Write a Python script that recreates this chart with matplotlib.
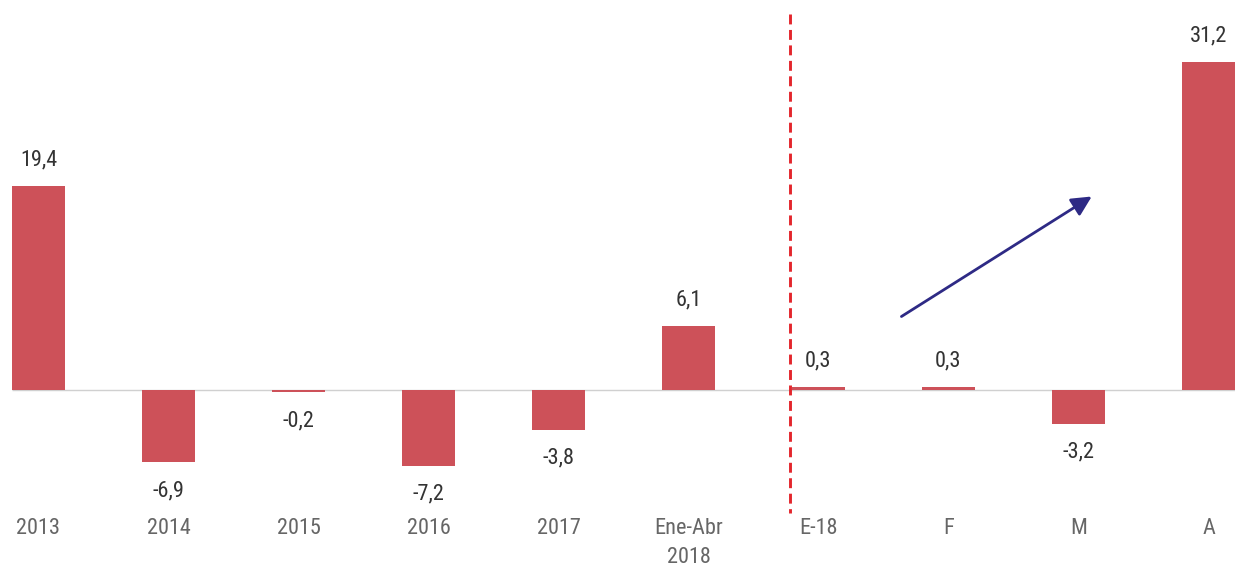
import matplotlib
matplotlib.use('Agg')
import matplotlib.pyplot as plt
from matplotlib import font_manager as fm
import numpy as np

categories = ['2013', '2014', '2015', '2016', '2017', 'Ene-Abr\n2018', 'E-18', 'F', 'M', 'A']
values = [19.4, -6.9, -0.2, -7.2, -3.8, 6.1, 0.3, 0.3, -3.2, 31.2]
value_labels = ['19,4', '-6,9', '-0,2', '-7,2', '-3,8', '6,1', '0,3', '0,3', '-3,2', '31,2']

# look for a narrow / condensed sans regular face (the original uses a condensed font)
cond = None
for f in fm.fontManager.ttflist:
    nm = (f.name + ' ' + f.fname).lower()
    if any(b in nm for b in ('mono', 'cjk', 'serif', 'bold', 'italic', 'light', 'thin',
                             'black', 'medium', 'semi', 'demi', 'extra', 'heavy')):
        continue
    if f.weight not in (400, 'normal', 'regular', 'book'):
        continue
    if 'sans' not in nm and 'roboto' not in nm and 'lato' not in nm and 'inter' not in nm:
        continue
    if 'narrow' in nm or 'condensed' in nm or f.stretch in ('condensed', 'semi-condensed'):
        cond = f.fname
        if 'liberation' in nm:
            break
if cond:
    fp = fm.FontProperties(fname=cond, size=16)
else:
    fp = fm.FontProperties(family='Liberation Sans', size=14)

bar_color = '#cd5159'
x = np.arange(len(categories))
width = 0.41

fig = plt.figure(figsize=(12.35, 5.67), dpi=100)
ax = fig.add_axes([0, 0.1093, 1, 0.8907])

ax.bar(x, values, width=width, color=bar_color, zorder=2)
ax.set_xlim(-0.296, 9.204)
ax.set_ylim(-10.95, 37.14)

# zero line
ax.hlines(0, x[0] - width / 2, 9.204, color='#d0d0d0', lw=1, zorder=1)

# value labels
for xi, v, lab in zip(x, values, value_labels):
    off = 2.5 if v >= 0 else -2.7
    ax.text(xi, v + off, lab, ha='center', va='center', fontproperties=fp, color='#333333')

# divider between years and months
ax.plot([5.78, 5.78], [35.8, -11.7], ls=(0, (3.4, 1.9)), color='#e3262c', lw=2.1,
        clip_on=False, zorder=3)

# trend arrow
ax.annotate('', xy=(8.12, 18.57), xytext=(6.62, 6.86),
            arrowprops=dict(arrowstyle='-|>', color='#2e2a85', lw=2, mutation_scale=30))

ax.set_xticks(x)
ax.set_xticklabels(categories, fontproperties=fp, color='#666666', linespacing=1.55)
ax.tick_params(axis='x', length=0, pad=9)
ax.set_yticks([])
for s in ax.spines.values():
    s.set_visible(False)

fig.savefig('out.png', dpi=100)
